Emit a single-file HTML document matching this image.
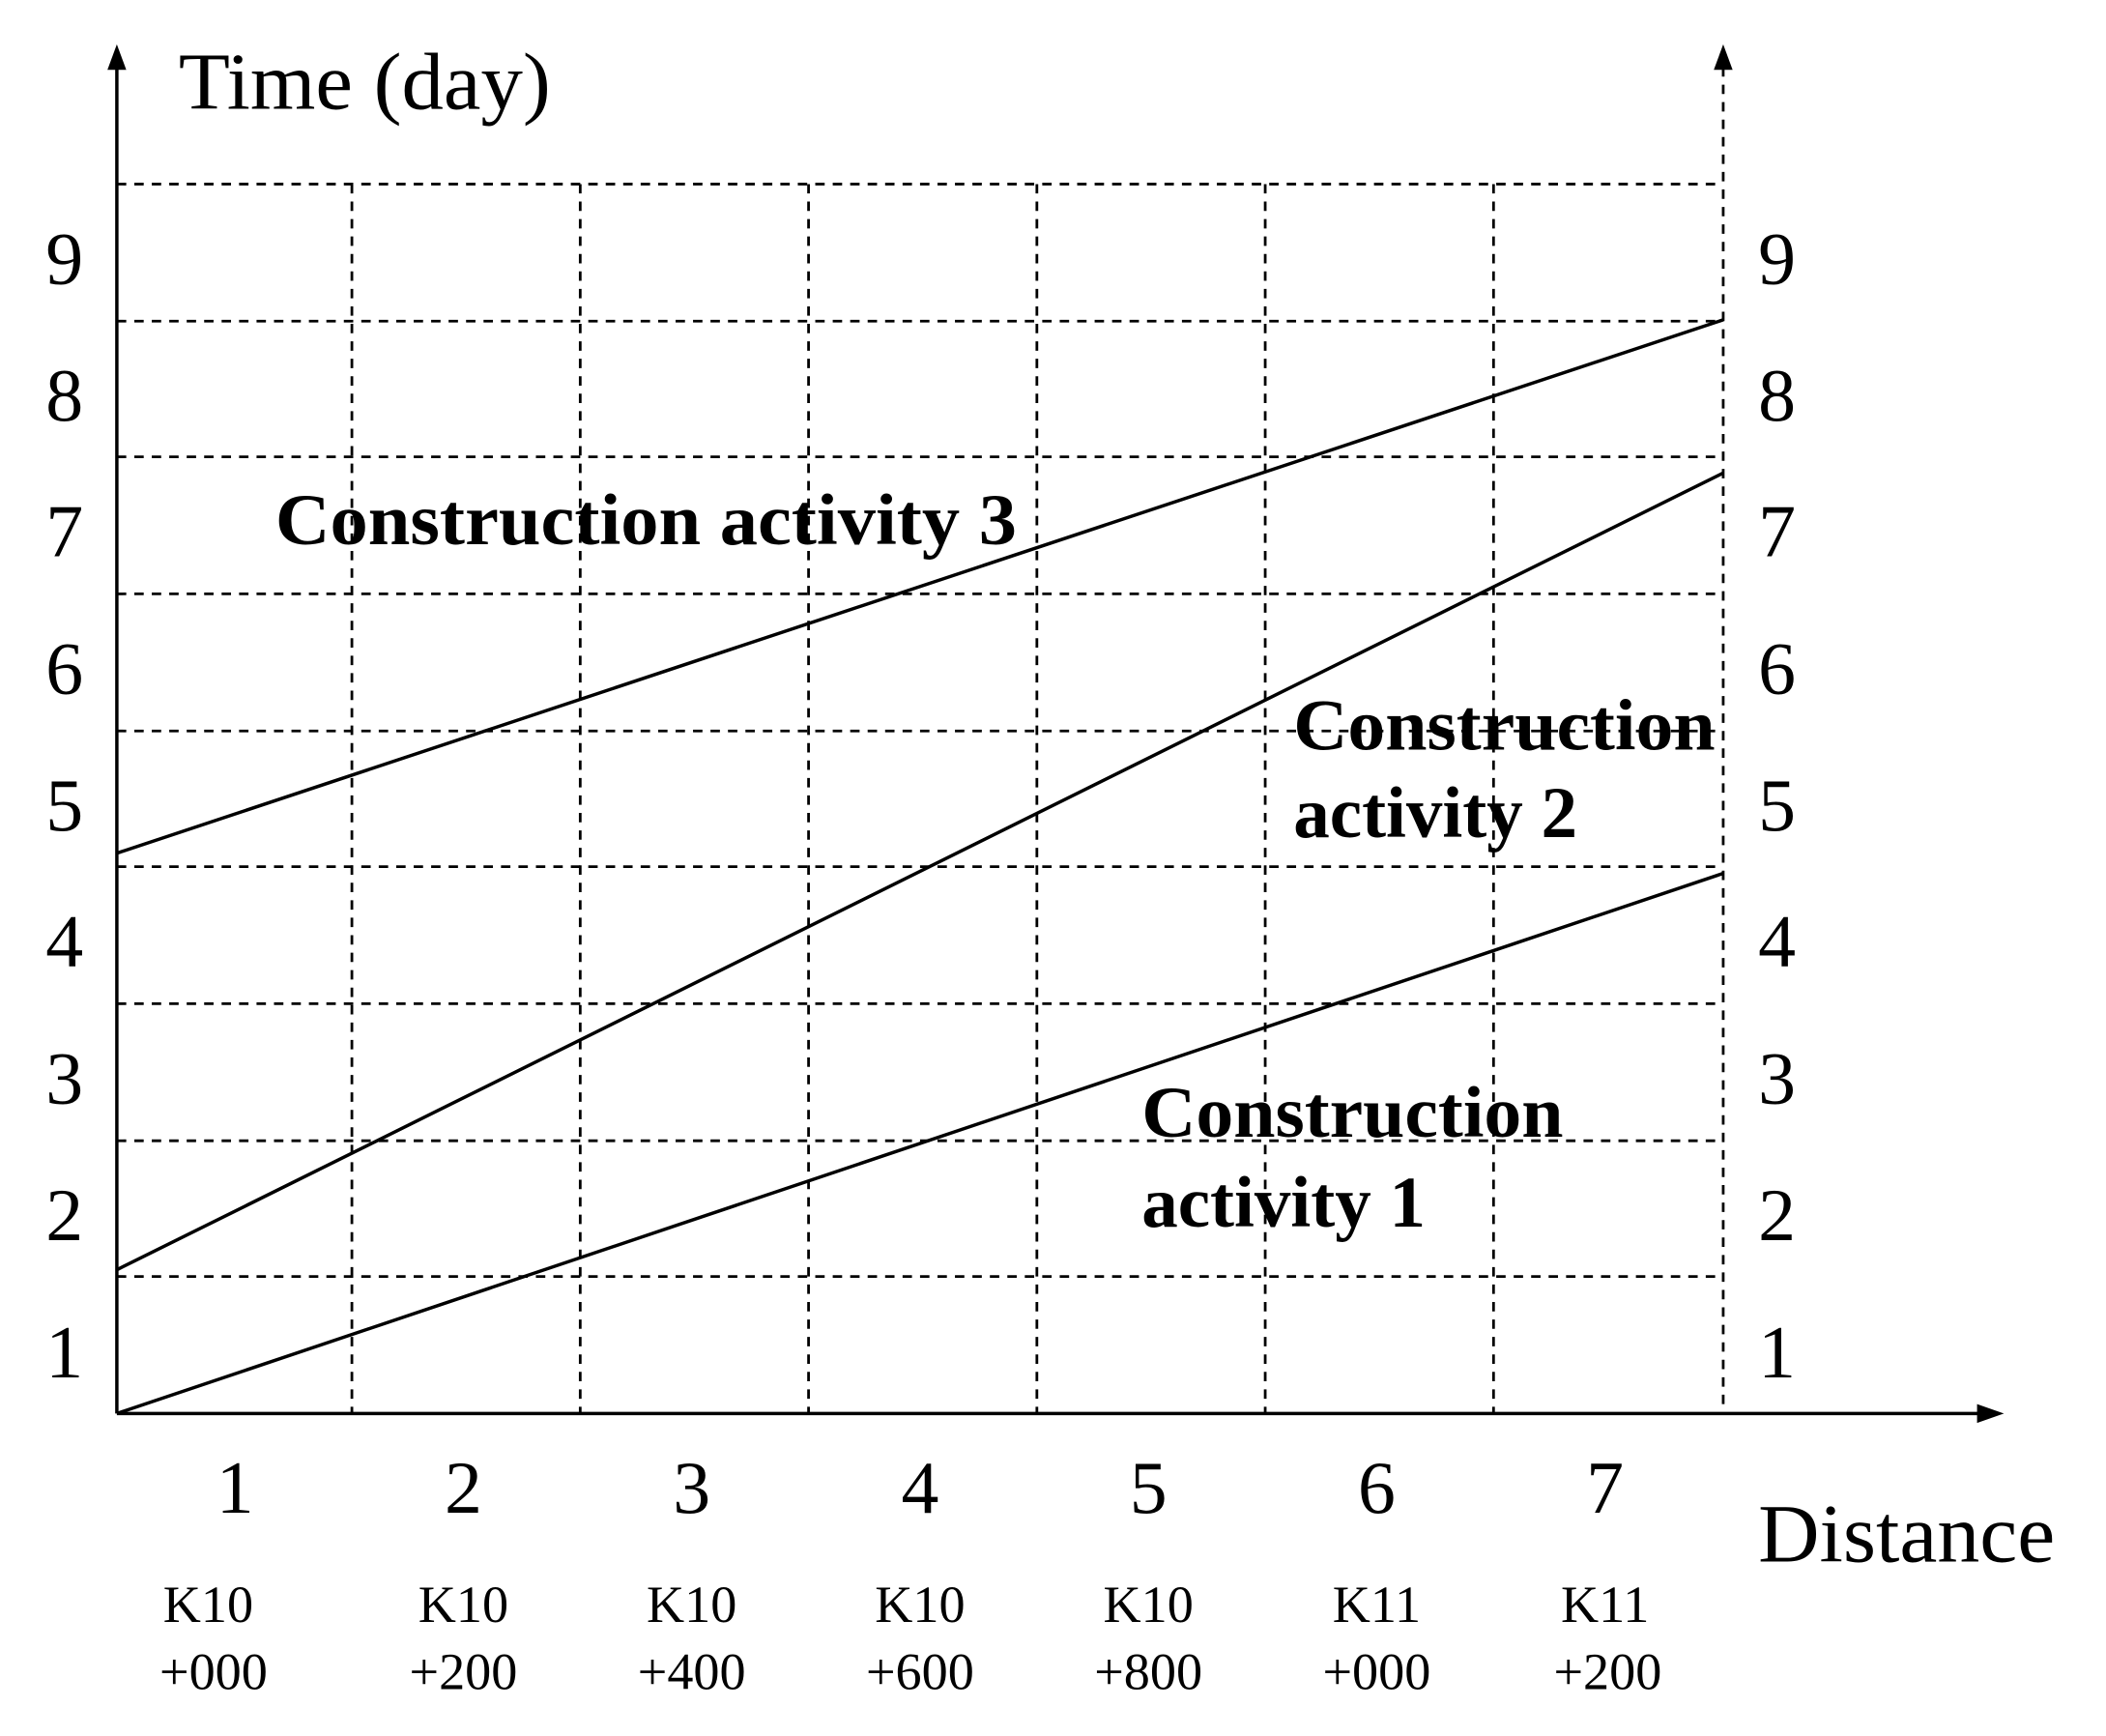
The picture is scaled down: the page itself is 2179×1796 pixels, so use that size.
<!DOCTYPE html>
<html><head><meta charset="utf-8"><style>
html,body{margin:0;padding:0;background:#fff;}
svg{display:block;}
text{font-family:"Liberation Serif",serif;fill:#000;}
</style></head><body>
<svg width="2179" height="1796" viewBox="0 0 1568 1292" preserveAspectRatio="none" xmlns="http://www.w3.org/2000/svg">
<rect width="1568" height="1292" fill="#fff"/>
<g stroke="#000" stroke-width="2" stroke-dasharray="7,6" fill="none">
<line x1="87" y1="137" x2="1283" y2="137"/>
<line x1="87" y1="239" x2="1283" y2="239"/>
<line x1="87" y1="340" x2="1283" y2="340"/>
<line x1="87" y1="442" x2="1283" y2="442"/>
<line x1="87" y1="544" x2="1283" y2="544"/>
<line x1="87" y1="645" x2="1283" y2="645"/>
<line x1="87" y1="747" x2="1283" y2="747"/>
<line x1="87" y1="849" x2="1283" y2="849"/>
<line x1="87" y1="950" x2="1283" y2="950"/>
<line x1="262" y1="137" x2="262" y2="1052"/>
<line x1="432" y1="137" x2="432" y2="1052"/>
<line x1="602" y1="137" x2="602" y2="1052"/>
<line x1="772" y1="137" x2="772" y2="1052"/>
<line x1="942" y1="137" x2="942" y2="1052"/>
<line x1="1112" y1="137" x2="1112" y2="1052"/>
<line x1="1283" y1="50" x2="1283" y2="1052"/>
</g>
<g stroke="#000" stroke-width="2.5" fill="none">
<line x1="87" y1="1052" x2="87" y2="48"/>
<line x1="87" y1="1052" x2="1475" y2="1052"/>
<line x1="87" y1="1052" x2="1283" y2="650"/>
<line x1="87" y1="945" x2="1283" y2="352"/>
<line x1="87" y1="635" x2="1283" y2="238"/>
</g>
<polygon points="87,33 80,52 94,52" fill="#000"/>
<polygon points="1283,33 1276,52 1290,52" fill="#000"/>
<polygon points="1492,1052 1472,1045 1472,1059" fill="#000"/>
<text x="133" y="81" font-size="60" textLength="277" lengthAdjust="spacingAndGlyphs">Time (day)</text>
<g font-size="56" text-anchor="middle">
<text x="48" y="1025">1</text><text x="48" y="923">2</text><text x="48" y="821">3</text>
<text x="48" y="719">4</text><text x="48" y="618">5</text><text x="48" y="516">6</text>
<text x="48" y="414">7</text><text x="48" y="313">8</text><text x="48" y="211">9</text>
<text x="1323" y="1025">1</text><text x="1323" y="923">2</text><text x="1323" y="821">3</text>
<text x="1323" y="719">4</text><text x="1323" y="618">5</text><text x="1323" y="516">6</text>
<text x="1323" y="414">7</text><text x="1323" y="313">8</text><text x="1323" y="211">9</text>
<text x="175" y="1126">1</text><text x="345" y="1126">2</text><text x="515" y="1126">3</text>
<text x="685" y="1126">4</text><text x="855" y="1126">5</text><text x="1025" y="1126">6</text>
<text x="1195" y="1126">7</text>
</g>
<text x="1309" y="1162" font-size="62" textLength="221" lengthAdjust="spacingAndGlyphs">Distance</text>
<g font-size="39" text-anchor="middle">
<text x="155" y="1207">K10</text><text x="159" y="1257">+000</text>
<text x="345" y="1207">K10</text><text x="345" y="1257">+200</text>
<text x="515" y="1207">K10</text><text x="515" y="1257">+400</text>
<text x="685" y="1207">K10</text><text x="685" y="1257">+600</text>
<text x="855" y="1207">K10</text><text x="855" y="1257">+800</text>
<text x="1025" y="1207">K11</text><text x="1025" y="1257">+000</text>
<text x="1195" y="1207">K11</text><text x="1197" y="1257">+200</text>
</g>
<g font-size="54" font-weight="bold">
<text x="205" y="405" textLength="552" lengthAdjust="spacingAndGlyphs">Construction activity 3</text>
<text x="963" y="558" textLength="314" lengthAdjust="spacingAndGlyphs">Construction</text>
<text x="963" y="623">activity 2</text>
<text x="850" y="846" textLength="314" lengthAdjust="spacingAndGlyphs">Construction</text>
<text x="850" y="913">activity 1</text>
</g>
</svg>
</body></html>
